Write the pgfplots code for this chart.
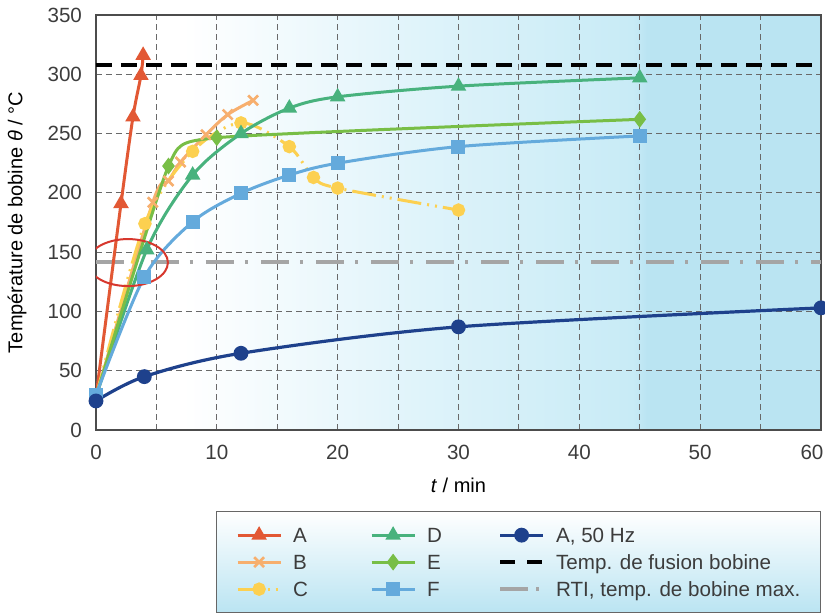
\documentclass[border=0pt]{standalone}
\usepackage{fontspec}
\setmainfont{Liberation Sans}
\usepackage{pgfplots}
\pgfplotsset{compat=1.18}

\definecolor{cA}{RGB}{226,88,52}
\definecolor{cB}{RGB}{247,175,110}
\definecolor{cC}{RGB}{252,208,80}
\definecolor{cD}{RGB}{72,178,125}
\definecolor{cE}{RGB}{120,190,70}
\definecolor{cF}{RGB}{100,170,220}
\definecolor{cH}{RGB}{30,65,140}
\definecolor{cR}{RGB}{215,55,45}
\definecolor{cRTI}{RGB}{165,165,165}
\definecolor{bgA}{RGB}{222,243,250}
\definecolor{bgB}{RGB}{200,235,246}
\definecolor{bgC}{RGB}{186,228,242}
\definecolor{txt}{RGB}{60,60,60}
\definecolor{gridc}{RGB}{105,105,105}

\pgfdeclarehorizontalshading{bgshade}{100bp}{color(0bp)=(white); color(31bp)=(white); color(48bp)=(bgA); color(62bp)=(bgB); color(63bp)=(bgC); color(100bp)=(bgC)}

\begin{document}
\begin{tikzpicture}
\path[use as bounding box] (-48pt,-92pt) rectangle (364.5pt,215pt);
\begin{axis}[
  at={(0,0)}, anchor=south west,
  scale only axis, width=362.5pt, height=207.5pt,
  xmin=0, xmax=60, ymin=0, ymax=350,
  xtick={0,10,...,50}, ytick={0,50,...,350},
  extra x ticks={60},
  extra x tick style={grid=none, xticklabel style={xshift=-4.5pt}},
  minor xtick={5,15,...,55},
  grid=both,
  major grid style={gridc, line width=0.5pt, dash pattern=on 3pt off 2pt},
  minor grid style={gridc, line width=0.5pt, dash pattern=on 3pt off 2pt},
  major tick length=0pt, minor tick length=0pt,
  axis background/.style={shading=bgshade},
  axis line style={black!70, line width=0.8pt},
  /pgf/number format/assume math mode=true,
  tick label style={font=\fontsize{10.3}{12}\selectfont, text=txt},
  yticklabel style={xshift=-3.5pt},
  xticklabel style={yshift=-4pt},
  label style={font=\fontsize{10.3}{12}\selectfont, text=txt},
  xlabel={\textit{t} / min},
  ylabel={Température de bobine \textit{θ} / °C},
  every axis x label/.style={at={(axis description cs:0.5,-0.1325)}, anchor=center},
  every axis y label/.style={at={(axis description cs:-0.109,0.5)}, anchor=center, rotate=90},
  legend columns=3, transpose legend,
  legend cell align=left,
  legend style={at={(axis description cs:1,-0.1952)}, anchor=north east,
    draw=black!60, line width=0.6pt, top color=white, bottom color=bgC,
    font=\fontsize{10.3}{12}\selectfont, text=txt,
    inner xsep=10pt, inner ysep=5.4pt,
    nodes={inner sep=0pt, text height=10.25pt, text depth=2.5pt},
    column sep=5.5pt, row sep=0.75pt},
  legend image code/.code={\draw[mark repeat=2,mark phase=2] plot coordinates {(0pt,0pt)(10.75pt,0pt)(21.5pt,0pt)};},
]
% reference lines
\addplot[forget plot, cRTI, line width=2pt, dash pattern=on 14pt off 5.5pt on 1.5pt off 6.5pt] coordinates {(0,142) (60,142)};
\addplot[forget plot, black, line width=2pt, dash pattern=on 7.8pt off 4.7pt] coordinates {(0,308) (60,308)};

\addplot[cA, line width=1.5pt, smooth, mark=triangle*, mark size=3pt, mark phase=2] coordinates {(0,28) (2.07,191) (3.06,264) (3.72,299) (3.9,316)};
\addlegendentry{\makebox[33pt][l]{A}}
\addplot[cB, line width=1.5pt, smooth, mark=x, mark size=3.5pt, mark phase=2, mark options={line width=1.3pt}] coordinates {(0,28) (4.7,192) (6,210) (7,226) (9.1,249) (10.9,266) (13,278)};
\addlegendentry{\makebox[33pt][l]{B}}
\addplot[cC, line width=1.5pt, smooth, dash pattern=on 12pt off 3pt on 1pt off 3pt on 1pt off 3pt, mark=*, mark size=2.6pt, mark phase=2, mark options={solid}] coordinates {(0,28) (4.05,174) (8,235) (12,259) (16,239) (18,213) (20,204) (30,185.5)};
\addlegendentry{\makebox[33pt][l]{C}}
\addplot[cD, line width=1.5pt, smooth, mark=triangle*, mark size=3pt, mark phase=2] coordinates {(0,28) (4.2,152) (8,215) (12,250) (16,271.5) (20,281) (30,290) (45,297)};
\addlegendentry{\makebox[30pt][l]{D}}
\addplot[cE, line width=1.5pt, smooth, tension=0.3, mark=diamond*, mark size=3pt, mark phase=2] coordinates {(0,28) (6,222.6) (10,246.5) (45,262)};
\addlegendentry{\makebox[30pt][l]{E}}
\addplot[cF, line width=1.5pt, smooth, mark=square*, mark size=2.75pt] coordinates {(0,29.5) (4,129) (8,175.6) (12,199.6) (16,215) (20,225) (30,239) (45,248)};
\addlegendentry{\makebox[30pt][l]{F}}
\addplot[cH, line width=1.6pt, smooth, mark=*, mark size=2.9pt] coordinates {(0,24.5) (4,45) (12,64.7) (30,87) (60,103)};
\addlegendentry{A, 50 Hz}
\addlegendimage{black, line width=2pt, dash pattern=on 7.5pt off 6pt}
\addlegendentry{Temp. de fusion bobine}
\addlegendimage{cRTI, line width=2pt, dash pattern=on 14pt off 4pt on 1.5pt off 6pt}
\addlegendentry{RTI, temp. de bobine max.}

\draw[cR, line width=1pt] (axis cs:2.64,141.2) ellipse [x radius=20pt, y radius=11.75pt];
\end{axis}
\end{tikzpicture}
\end{document}
